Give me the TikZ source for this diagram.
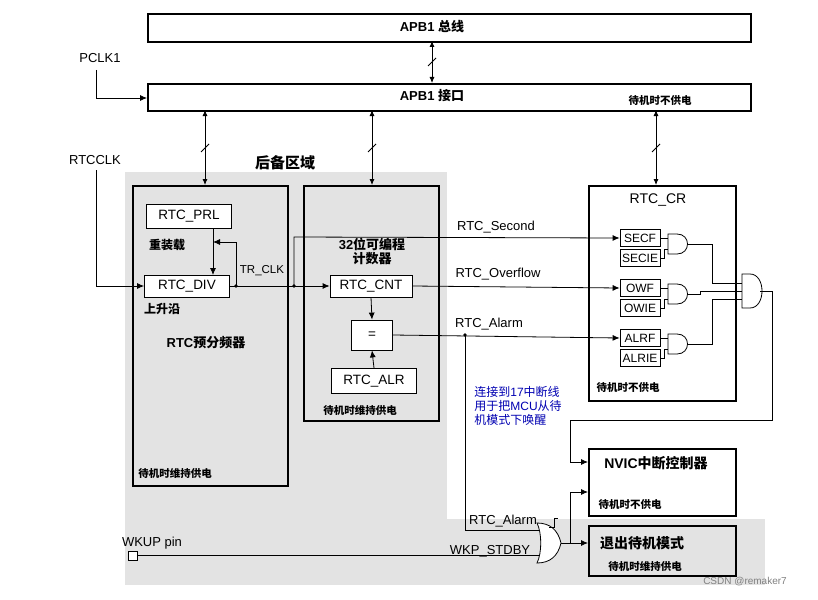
\documentclass[tikz,border=0pt]{standalone}
\usepackage{fontspec}
\setmainfont{Liberation Sans}
\newfontfamily\cjk{Noto Sans CJK SC}
\usetikzlibrary{arrows.meta}
\begin{document}
\begin{tikzpicture}[x=1pt,y=-1pt,
 box/.style={draw,line width=1.6pt,anchor=north west,inner sep=0},
 reg/.style={draw,line width=0.8pt,fill=white,inner sep=0,font=\fontsize{13.5}{13.5}\selectfont},
 sreg/.style={draw,line width=0.8pt,fill=white,inner sep=0,minimum width=40,minimum height=17,font=\fontsize{12}{12}\selectfont},
 lbl/.style={font=\fontsize{13}{13}\selectfont,inner sep=1},
 it/.style={font=\cjk\fontsize{10.5}{10.5}\selectfont\bfseries\itshape,inner sep=0},
 ar/.style={-{Latex[length=7,width=6]},line width=0.8pt},
 ln/.style={line width=0.8pt},
 bar/.style={<->,>={Latex[length=6,width=5]},line width=0.8pt}]
\useasboundingbox (0,0) rectangle (818,599);
\fill[white] (0,0) rectangle (818,599);
% gray regions
\fill[gray!22] (125,172) rectangle (447,585);
\fill[gray!22] (125,519) rectangle (765,585);
% buses
\node[box,minimum width=603,minimum height=28] (bus) at (147,13) {};
\node[font=\fontsize{13}{13}\selectfont\bfseries] at (432,27) {APB1 {\cjk 总线}};
\node[box,minimum width=603,minimum height=27] (ifc) at (147,83) {};
\node[font=\fontsize{13}{13}\selectfont\bfseries] at (432,96) {APB1 {\cjk 接口}};
\node[it] at (660,101) {待机时不供电};
\draw[bar] (432,41) -- (432,83); \draw[ln] (428,66)--(436,58);
\node[lbl] (pclk) at (100,58) {PCLK1};
\draw[ar] (96,70) -- (96,98) -- (147,98);
% back-up domain
\node[font=\cjk\fontsize{15}{15}\selectfont\bfseries] at (285,163) {后备区域};
\node[box,minimum width=155,minimum height=300] (pre) at (132,185) {};
\node[box,minimum width=135,minimum height=235] (cnt) at (303,185) {};
\node[box,minimum width=147,minimum height=215] (cr) at (588,185) {};
\draw[bar] (205,110) -- (205,185); \draw[ln] (201,152)--(209,144);
\draw[bar] (372,110) -- (372,185); \draw[ln] (368,152)--(376,144);
\draw[bar] (656,110) -- (656,185); \draw[ln] (652,152)--(660,144);
% prescaler
\node[reg,minimum width=85,minimum height=24] (prl) at (189,216) {RTC\_PRL};
\node[reg,minimum width=85,minimum height=22] (div) at (187,286) {RTC\_DIV};
\node[font=\cjk\fontsize{12}{12}\selectfont\bfseries] at (167,245) {重装载};
\node[font=\cjk\fontsize{12}{12}\selectfont\bfseries] at (162,309) {上升沿};
\node[font=\fontsize{13}{13}\selectfont\bfseries] at (206,343) {RTC{\cjk 预分频器}};
\node[it] at (175,473) {待机时维持供电};
\node[lbl] at (95,160) {RTCCLK};
\draw[ar] (96,170) -- (96,286) -- (div.west);
\draw[ar] (213,228) -- (213,275);
\coordinate (d1) at (236,286); \coordinate (d2) at (294,286);
\fill (d1) circle (1.8); \fill (d2) circle (1.8);
\draw[ar] (d1) -- (236,242) -- (213,242);
\node[lbl,font=\fontsize{11.5}{11.5}\selectfont] at (262,271) {TR\_CLK};
% counter
\node[font=\cjk\fontsize{13}{14}\selectfont\bfseries,align=center] at (372,251) {\fontspec{Liberation Sans}\bfseries 32{\cjk 位可编程}\\计数器};
\node[reg,minimum width=82,minimum height=22] (rcnt) at (371,286) {RTC\_CNT};
\node[reg,minimum width=41,minimum height=30] (eq) at (372,335) {=};
\node[reg,minimum width=85,minimum height=25] (alr) at (374,381) {RTC\_ALR};
\node[it] at (360,410) {待机时维持供电};
\draw[ar] (div.east) -- (rcnt.west);
\draw[ar] (rcnt.south) -- (eq.north);
\draw[ar] (alr.north) -- (eq.south);
% RTC_CR
\node[font=\fontsize{14}{14}\selectfont] at (658,200) {RTC\_CR};
\node[sreg] (secf) at (640,238) {SECF};
\node[sreg] (secie) at (640,258) {SECIE};
\node[sreg] (owf) at (640,288) {OWF};
\node[sreg] (owie) at (640,308) {OWIE};
\node[sreg] (alrf) at (640,338) {ALRF};
\node[sreg] (alrie) at (640,358) {ALRIE};
\node[it] at (628,388) {待机时不供电};
\foreach \y/\n in {244/g1,294/g2,344/g3}{
 \draw[ln,fill=white] (668,\y-10) -- (677,\y-10) .. controls (691,\y-10) and (691,\y+10) .. (677,\y+10) -- (668,\y+10) -- cycle;
 \coordinate (\n) at (688,\y);
 \draw[ln] (660,\y-6) -- (668,\y-6);
 \draw[ln] (660,\y+14) -- (664,\y+14) -- (664,\y+5) -- (668,\y+5);
}
\draw[ln,fill=white] (742,274) -- (750,274) .. controls (766,274) and (766,308) .. (750,308) -- (742,308) -- cycle;
\draw[ln] (g1) -- (712,244) -- (712,283) -- (742,283);
\draw[ln] (g2) -- (700,294) -- (700,291) -- (742,291);
\draw[ln] (g3) -- (712,344) -- (712,299) -- (742,299);
% signals
\draw[ar] (d2) -- (294,237) -- (secf.west);
\node[lbl] at (496,227) {RTC\_Second};
\draw[ar] (rcnt.east) -- (owf.west);
\node[lbl] at (498,274) {RTC\_Overflow};
\draw[ar] (eq.east) -- (alrf.west);
\node[lbl] at (489,324) {RTC\_Alarm};
\coordinate (d3) at (465,335); \fill (d3) circle (1.8);
\node[font=\cjk\fontsize{12}{14}\selectfont,text=blue!70!black,align=left] at (518,406) {连接到{\fontspec{Liberation Sans}17}中断线\\用于把{\fontspec{Liberation Sans}MCU}从待\\机模式下唤醒};
% NVIC / exit
\node[box,minimum width=147,minimum height=67] (nvic) at (588,448) {};
\node[font=\fontsize{14}{14}\selectfont\bfseries] at (656,463) {NVIC{\cjk 中断控制器}};
\node[it] at (630,505) {待机时不供电};
\node[box,minimum width=147,minimum height=50] (exit) at (588,525) {};
\node[font=\cjk\fontsize{14}{14}\selectfont\bfseries] at (642,543) {退出待机模式};
\node[it] at (645,566) {待机时维持供电};
\draw[ar] (760,291) -- (772,291) -- (772,420) -- (570,420) -- (570,462) -- (588,462);
% wakeup gate
\draw[ln,fill=white] (537,523) .. controls (550,523) and (558,530) .. (561,543) .. controls (558,556) and (550,563) .. (537,563) .. controls (542,553) and (542,533) .. (537,523) -- cycle;
\coordinate (og) at (561,543);
\draw[ln] (d3) -- (465,530) -- (540,530);
\node[lbl] at (503,521) {RTC\_Alarm};
\draw[ln] (133,555) -- (540,555);
\draw[ln,fill=white] (128,551) rectangle (137,560);
\node[lbl] at (152,543) {WKUP pin};
\node[lbl] at (490,551) {WKP\_STDBY};
\draw[ln] (549,527) -- (554,527) -- (554,518) -- (558,518);
\draw[ar] (og) -- (exit.west |- og);
\draw[ar] (570,543) -- (570,492) -- (588,492);
\node[font=\fontsize{10}{10}\selectfont,text=gray] at (745,582) {CSDN @remaker7};
\end{tikzpicture}
\end{document}
